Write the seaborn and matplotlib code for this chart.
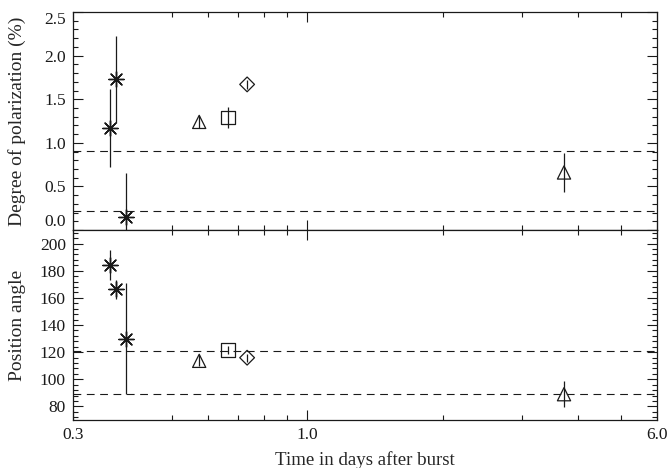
import matplotlib
matplotlib.use("Agg")
import numpy as np
import pandas as pd
import matplotlib.pyplot as plt
import seaborn as sns
from matplotlib.ticker import FixedLocator, FixedFormatter, MultipleLocator, NullFormatter, FormatStrFormatter

# values
days = [0.364, 0.374, 0.394, 0.574, 0.665, 0.734, 3.73]
symbol = ["star", "star", "star", "tri", "sq", "dia", "tri"]
pol = [1.17, 1.73, 0.15, 1.24, 1.29, 1.67, 0.66]
pol_err = [0.45, 0.50, 0.50, 0.07, 0.12, 0.05, 0.22]
angle = [184.2, 166.3, 129.8, 113.6, 121.6, 115.9, 89.0]
angle_err = [10.8, 7.0, 40.8, 4.0, 3.0, 3.0, 9.7]
pol_lines = [0.91, 0.22]
angle_lines = [121.0, 89.0]

x_major = [0.3, 1.0, 6.0]
x_major_labels = ["0.3", "1.0", "6.0"]
x_minor = [0.5, 0.6, 0.7, 0.8, 0.9, 2.0, 3.0, 4.0, 5.0]

df = pd.DataFrame({"days": days, "symbol": symbol, "pol": pol, "pol_err": pol_err,
                   "angle": angle, "angle_err": angle_err})

markers = {"star": (8, 2, 0), "tri": "^", "sq": "s", "dia": "D"}
msize = {"star": 11.0, "tri": 9.5, "sq": 10.0, "dia": 7.5}

sns.set_theme(style="ticks")
plt.rcParams["font.family"] = ["Liberation Serif", "DejaVu Serif"]

fig = plt.figure(figsize=(6.72, 4.68), dpi=100)
ax1 = fig.add_axes([0.1082, 0.5085, 0.869, 0.4658])
ax2 = fig.add_axes([0.1082, 0.1026, 0.869, 0.4059], sharex=ax1)

fs_tick = 12.5
fs_xlab = 13.6
fs_ylab = 14


def draw_panel(ax, col, errcol, lines):
    ax.errorbar(df["days"], df[col], yerr=df[errcol], fmt="none", ecolor="k",
                elinewidth=0.9, capsize=0, zorder=2)
    for key, sub in df.groupby("symbol"):
        if key == "star":
            sns.scatterplot(data=sub, x="days", y=col, marker=markers[key],
                            s=msize[key] ** 2, color="k", linewidth=1.0, ax=ax, zorder=3)
        else:
            sns.scatterplot(data=sub, x="days", y=col, marker=markers[key],
                            s=msize[key] ** 2, color="k", facecolors="none",
                            edgecolors="k", linewidth=0.9, ax=ax, zorder=3)
    for v in lines:
        ax.axhline(v, color="k", lw=0.8, ls=(0, (7, 5)), zorder=1)
    for sp in ax.spines.values():
        sp.set_linewidth(0.9)
        sp.set_color("k")
    ax.tick_params(which="both", direction="in", top=True, right=True,
                   labelsize=fs_tick, colors="k", width=0.8, pad=5)
    ax.tick_params(which="major", length=7)
    ax.tick_params(which="minor", length=3.5)
    ax.set_xlabel("")


draw_panel(ax1, "pol", "pol_err", pol_lines)
draw_panel(ax2, "angle", "angle_err", angle_lines)

ax1.set_xscale("log")
ax1.set_xlim(0.3, 6.0)
ax1.xaxis.set_major_locator(FixedLocator(x_major))
ax1.xaxis.set_major_formatter(FixedFormatter(x_major_labels))
ax1.xaxis.set_minor_locator(FixedLocator(x_minor))
ax1.xaxis.set_minor_formatter(NullFormatter())
ax1.tick_params(labelbottom=False)

ax1.set_ylim(0.0, 2.5)
ax1.yaxis.set_major_locator(MultipleLocator(0.5))
ax1.yaxis.set_minor_locator(MultipleLocator(0.1))
ax1.yaxis.set_major_formatter(FormatStrFormatter("%.1f"))

ax2.set_ylim(70, 210)
ax2.yaxis.set_major_locator(FixedLocator([80, 100, 120, 140, 160, 180, 200]))
ax2.yaxis.set_minor_locator(MultipleLocator(4))
ax2.yaxis.set_major_formatter(FormatStrFormatter("%d"))

# end labels of the upper panel sit inside the axis range, as in the original
fig.canvas.draw()
for lab in ax1.get_yticklabels():
    if lab.get_text() == "2.5":
        lab.set_verticalalignment("top")
    elif lab.get_text() == "0.0":
        lab.set_verticalalignment("bottom")

ax1.set_ylabel("Degree of polarization (%)", fontsize=fs_ylab)
ax2.set_ylabel("Position angle", fontsize=fs_ylab)
ax1.yaxis.set_label_coords(-0.080, 0.5)
ax2.yaxis.set_label_coords(-0.080, 0.5)
ax2.set_xlabel("Time in days after burst", fontsize=fs_xlab)
ax2.xaxis.set_label_coords(0.5, -0.165)

fig.savefig("out.png", dpi=100, facecolor="white")
